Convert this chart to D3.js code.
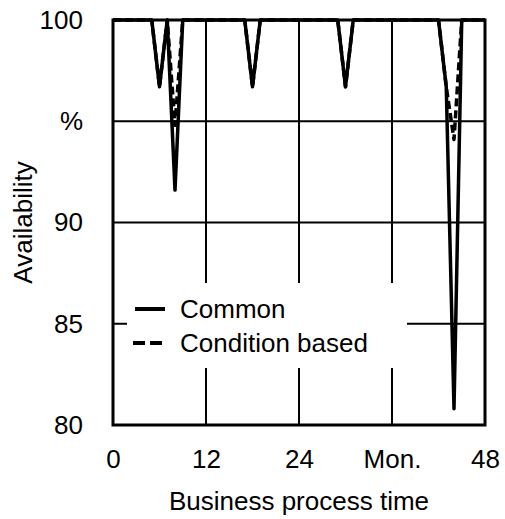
<!DOCTYPE html>
<html>
<head>
<meta charset="utf-8">
<script src="https://cdn.jsdelivr.net/npm/d3@7"></script>
<style>
  body { margin: 0; background: #fff; }
  svg { display: block; font-family: "Liberation Sans", Arial, sans-serif; }
</style>
</head>
<body>
<div id="chart"></div>
<script>
// hourly availability (%) over the business process time, hours 0..48
const hours = d3.range(0, 49);
const common = [
  100, 100, 100, 100, 100, 100, 96.7, 100, 91.6, 100,
  100, 100, 100, 100, 100, 100, 100, 100, 96.7, 100,
  100, 100, 100, 100, 100, 100, 100, 100, 100, 100,
  96.7, 100, 100, 100, 100, 100, 100, 100, 100, 100,
  100, 100, 100, 96.7, 80.8, 100, 100, 100, 100
];
const conditionBased = [
  100, 100, 100, 100, 100, 100, 96.7, 100, 94.8, 100,
  100, 100, 100, 100, 100, 100, 100, 100, 96.7, 100,
  100, 100, 100, 100, 100, 100, 100, 100, 100, 100,
  96.7, 100, 100, 100, 100, 100, 100, 100, 100, 100,
  100, 100, 100, 96.7, 94.1, 100, 100, 100, 100
];
const xTicks = [0, 12, 24, 36, 48];
const xTickLabels = ["0", "12", "24", "Mon.", "48"];
const yTicks = [80, 85, 90, 95, 100];
const yTickLabels = ["80", "85", "90", "%", "100"];
const seriesNames = ["Common", "Condition based"];

const W = 505, H = 519;
const margin = {top: 20, right: 20, bottom: 94, left: 113};
const fontSize = 26;

const svg = d3.select("#chart").append("svg")
  .attr("width", W)
  .attr("height", H);

const x = d3.scaleLinear().domain([0, 48]).range([margin.left, W - margin.right]);
const y = d3.scaleLinear().domain([80, 100]).range([H - margin.bottom, margin.top]);

// grid
const grid = svg.append("g").attr("stroke", "#000").attr("stroke-width", 2);
grid.selectAll("line.v")
  .data(xTicks.slice(1, -1))
  .enter().append("line")
    .attr("x1", d => x(d)).attr("x2", d => x(d))
    .attr("y1", y(100)).attr("y2", y(80));
grid.selectAll("line.h")
  .data(yTicks.slice(1, -1))
  .enter().append("line")
    .attr("y1", d => y(d)).attr("y2", d => y(d))
    .attr("x1", x(0)).attr("x2", x(48));

// legend box hides the grid behind it
const legend = svg.append("g");
legend.append("rect")
  .attr("x", 127).attr("y", 283)
  .attr("width", 280).attr("height", 85)
  .attr("fill", "#fff");

// series
const line = d3.line()
  .x((d, i) => x(hours[i]))
  .y(d => y(d));

svg.append("path")
  .datum(common)
  .attr("fill", "none")
  .attr("stroke", "#000")
  .attr("stroke-width", 3.5)
  .attr("stroke-linejoin", "round")
  .attr("d", line);

svg.append("path")
  .datum(conditionBased)
  .attr("fill", "none")
  .attr("stroke", "#000")
  .attr("stroke-width", 3.5)
  .attr("stroke-dasharray", "8,4")
  .attr("stroke-linejoin", "round")
  .attr("d", line);

// legend entries
seriesNames.forEach((name, i) => {
  const ly = 309 + i * 34;
  legend.append("line")
    .attr("x1", i === 0 ? 135 : 133).attr("x2", i === 0 ? 165 : 162)
    .attr("y1", ly).attr("y2", ly)
    .attr("stroke", "#000")
    .attr("stroke-width", 4)
    .attr("stroke-dasharray", i === 0 ? null : "12,5");
  legend.append("text")
    .attr("x", 180).attr("y", ly)
    .attr("dy", "0.35em")
    .style("font-size", fontSize + "px")
    .text(name);
});

// frame
svg.append("rect")
  .attr("x", x(0)).attr("y", y(100))
  .attr("width", x(48) - x(0))
  .attr("height", y(80) - y(100))
  .attr("fill", "none")
  .attr("stroke", "#000")
  .attr("stroke-width", 3);

// axes (labels only, the frame draws the lines)
const xAxis = d3.axisBottom(x)
  .tickValues(xTicks)
  .tickSize(0)
  .tickPadding(25)
  .tickFormat((d, i) => xTickLabels[i]);

svg.append("g")
    .attr("transform", `translate(0,${y(80)})`)
    .call(xAxis)
    .call(g => g.select(".domain").remove())
    .call(g => g.selectAll("text")
      .style("font-size", fontSize + "px")
      .style("font-family", "Liberation Sans, Arial, sans-serif")
      .attr("fill", "#000"));

const yAxis = d3.axisLeft(y)
  .tickValues(yTicks)
  .tickSize(0)
  .tickPadding(30)
  .tickFormat((d, i) => yTickLabels[i]);

svg.append("g")
    .attr("transform", `translate(${x(0)},0)`)
    .call(yAxis)
    .call(g => g.select(".domain").remove())
    .call(g => g.selectAll("text")
      .style("font-size", fontSize + "px")
      .style("font-family", "Liberation Sans, Arial, sans-serif")
      .attr("fill", "#000"));

// axis titles
svg.append("text")
  .attr("x", (x(0) + x(48)) / 2)
  .attr("y", 510)
  .attr("text-anchor", "middle")
  .style("font-size", fontSize + "px")
  .text("Business process time");

svg.append("text")
  .attr("transform", `translate(32,${(y(80) + y(100)) / 2}) rotate(-90)`)
  .attr("text-anchor", "middle")
  .style("font-size", fontSize + "px")
  .text("Availability");
</script>
</body>
</html>
